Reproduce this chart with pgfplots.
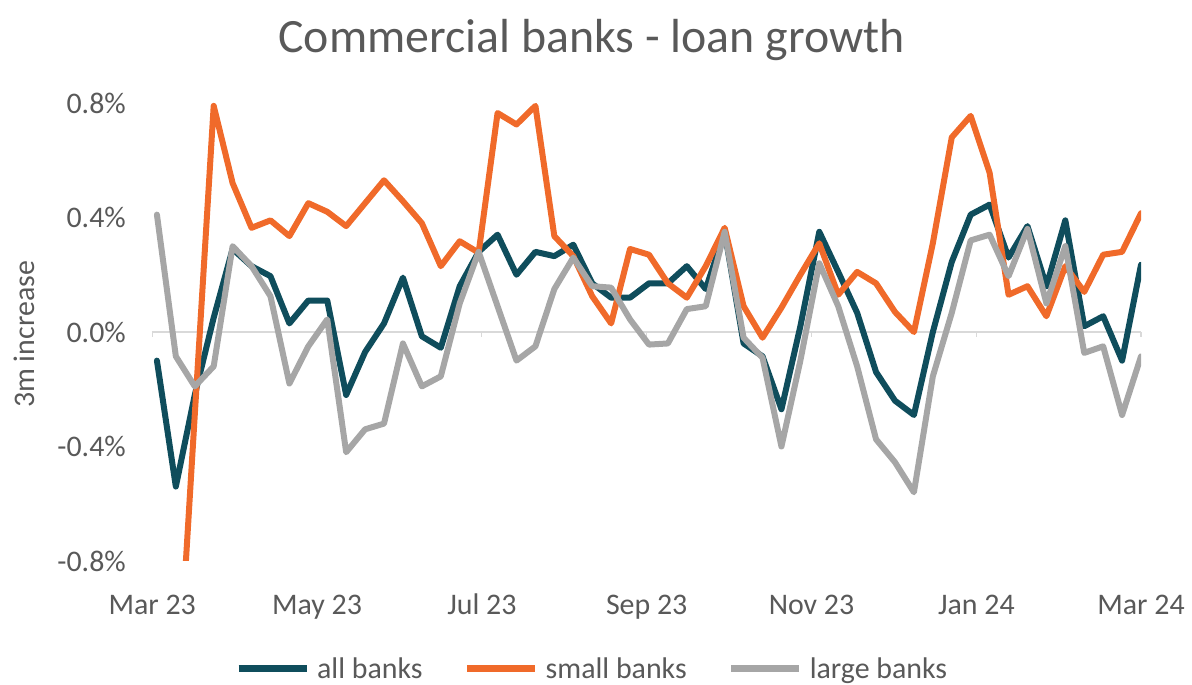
\documentclass[border=0pt]{standalone}
\usepackage{fontspec}
\setmainfont{Carlito}
\usepackage{pgfplots}
\pgfplotsset{compat=1.18}
\usepackage{pgfplotstable}
\definecolor{allc}{HTML}{0F4D5C}
\definecolor{smallc}{HTML}{F06A2A}
\definecolor{largec}{HTML}{A6A6A6}
\definecolor{txt}{HTML}{595959}
\definecolor{axl}{HTML}{D9D9D9}

\pgfplotstableread{
i all small large
0 -0.10 -1.20 0.41
1 -0.54 -1.38 -0.085
2 -0.22 -0.29 -0.19
3 0.05 0.79 -0.12
4 0.29 0.52 0.30
5 0.23 0.364 0.23
6 0.195 0.39 0.125
7 0.03 0.335 -0.18
8 0.11 0.45 -0.05
9 0.11 0.42 0.044
10 -0.22 0.37 -0.42
11 -0.07 0.45 -0.34
12 0.03 0.53 -0.32
13 0.19 0.457 -0.04
14 -0.015 0.38 -0.19
15 -0.055 0.23 -0.155
16 0.16 0.317 0.10
17 0.28 0.277 0.28
18 0.34 0.765 0.09
19 0.20 0.725 -0.10
20 0.28 0.79 -0.05
21 0.265 0.335 0.15
22 0.305 0.265 0.26
23 0.17 0.125 0.16
24 0.12 0.03 0.155
25 0.12 0.29 0.044
26 0.17 0.27 -0.044
27 0.17 0.17 -0.04
28 0.23 0.12 0.08
29 0.15 0.23 0.09
30 0.35 0.364 0.35
31 -0.04 0.09 -0.02
32 -0.085 -0.02 -0.09
33 -0.27 0.085 -0.40
34 0.02 0.20 -0.10
35 0.35 0.31 0.24
36 0.21 0.13 0.09
37 0.067 0.21 -0.12
38 -0.14 0.17 -0.375
39 -0.24 0.07 -0.455
40 -0.29 0.0 -0.56
41 0.0 0.31 -0.155
42 0.245 0.68 0.067
43 0.41 0.755 0.32
44 0.445 0.556 0.34
45 0.26 0.13 0.195
46 0.37 0.16 0.36
47 0.16 0.055 0.10
48 0.39 0.23 0.30
49 0.02 0.14 -0.073
50 0.055 0.27 -0.05
51 -0.10 0.28 -0.29
52 0.235 0.415 -0.085
}\loandata

\begin{document}
\begin{tikzpicture}[x=1bp,y=1bp]
\begin{axis}[
  at={(0,0)}, anchor=south west,
  scale only axis, width=989bp, height=472.3bp,
  xmin=-0.26, xmax=52, ymin=-0.8, ymax=0.85,
  axis x line*=middle, axis y line*=left,
  x axis line style={draw=axl, line width=1.2bp},
  y axis line style={draw=none},
  hide obscured x ticks=false,
  xtick={-0.25,8.46,17.17,25.88,34.59,43.3,52},
  xticklabels={Mar 23,May 23,Jul 23,Sep 23,Nov 23,Jan 24,Mar 24},
  xtick style={draw=axl, line width=1.2bp},
  tick align=outside, major tick length=5bp,
  ytick={-0.8,-0.4,0,0.4,0.8},
  yticklabels={-0.8\%,-0.4\%,0.0\%,0.4\%,0.8\%},
  ytick style={draw=none},
  ticklabel style={font=\fontsize{30}{36}\selectfont, text=txt},
  yticklabel style={anchor=east, inner sep=0pt, xshift=-21bp},
  xticklabel style={anchor=base, inner sep=0pt, yshift=-277bp},
  ylabel={3m increase},
  every axis y label/.style={at={(axis description cs:-0.1294,0.4796)}, rotate=90, anchor=center, font=\fontsize{30}{36}\selectfont, text=txt},
  title={Commercial banks - loan growth},
  every axis title/.style={at={(axis description cs:0.4444,1)}, anchor=base, yshift=35.7bp, font=\fontsize{48}{56}\selectfont, text=txt},
  legend columns=3,
  legend image code/.code={\draw[#1, line width=7bp, line cap=butt] (0bp,0bp) -- (68bp,0bp);},
  legend style={at={(axis description cs:0.0839,-0.2286)}, anchor=west, draw=none, fill=none, inner sep=0pt,
    font=\fontsize{30}{36}\selectfont, text=txt,
    nodes={inner sep=0pt},
    /tikz/every odd column/.append style={column sep=7bp},
    /tikz/every even column/.append style={column sep=41bp}},
  legend cell align=left,
  every axis plot/.append style={line width=6bp, line join=round, line cap=round},
]
\addplot[allc] table[x=i, y=all] {\loandata};
\addlegendentry{all banks}
\addplot[smallc] table[x=i, y=small] {\loandata};
\addlegendentry{small banks}
\addplot[largec] table[x=i, y=large] {\loandata};
\addlegendentry{large banks}
\end{axis}
\path (-152,-124) rectangle (1040,561);
\end{tikzpicture}
\end{document}
